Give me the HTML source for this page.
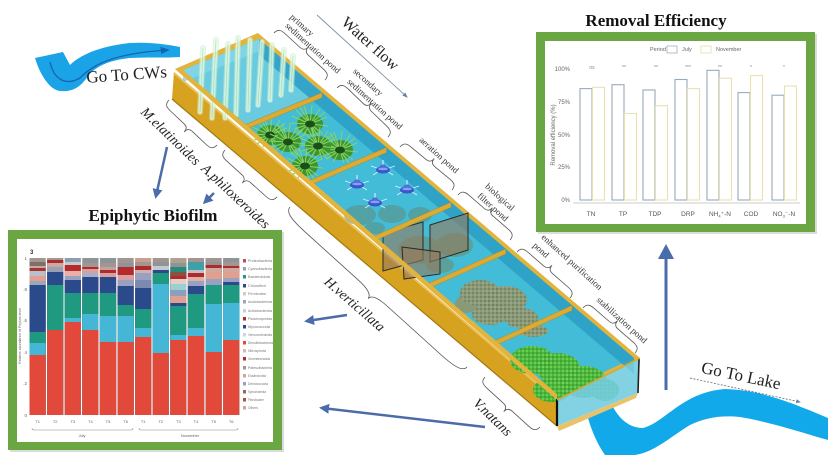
<!DOCTYPE html>
<html><head><meta charset="utf-8">
<style>
html,body{margin:0;padding:0;background:#fff;}
svg{display:block;}
.sf{font-family:"Liberation Serif","DejaVu Serif",serif;}
.ss{font-family:"Liberation Sans","DejaVu Sans",sans-serif;}
#bars rect{width:16.2px;}
</style></head>
<body>
<svg width="830" height="455" viewBox="0 0 830 455" xmlns="http://www.w3.org/2000/svg">
<defs>
  <marker id="ah" viewBox="0 0 10 10" refX="7" refY="5" markerWidth="4" markerHeight="4" orient="auto"><path d="M0,0 L10,5 L0,10 z" fill="#4b6cab"/></marker>
  <marker id="ag" viewBox="0 0 10 10" refX="8" refY="5" markerWidth="6" markerHeight="6" orient="auto"><path d="M0,1 L10,5 L0,9 z" fill="#6a7fa8"/></marker>
  <marker id="ad" viewBox="0 0 10 10" refX="8" refY="5" markerWidth="7" markerHeight="7" orient="auto"><path d="M0,1 L10,5 L0,9 z" fill="#1565b0"/></marker>
  <path id="br" d="M0,0 C0,-6 5,-7 12,-7 L42,-7 C47,-7 50,-9 50,-13 C50,-9 53,-7 58,-7 L88,-7 C95,-7 100,-6 100,0" fill="none" stroke="#555" stroke-width="0.8" vector-effect="non-scaling-stroke"/>
  <pattern id="pdots" width="4" height="4" patternUnits="userSpaceOnUse">
    <circle cx="1" cy="1" r="0.9" fill="#5d6e4c"/><circle cx="3" cy="3" r="0.8" fill="#b4bca0"/>
  </pattern>
  <pattern id="gdots" width="4" height="4" patternUnits="userSpaceOnUse">
    <circle cx="1" cy="1" r="0.9" fill="#2f8f28"/><circle cx="3" cy="3" r="0.9" fill="#92e06e"/>
  </pattern>
  <g id="tuft">
    <ellipse rx="13" ry="10" fill="#3d9532"/>
    <path d="M0,0 L-18,-8 M0,0 L-14,-14 M0,0 L-6,-18 M0,0 L2,-19 M0,0 L10,-15 M0,0 L17,-7 M0,0 L18,2 M0,0 L13,10 M0,0 L4,13 M0,0 L-7,12 M0,0 L-16,5 M0,0 L-19,-1 M0,0 L-10,-17 M0,0 L15,-12 M0,0 L-13,9 M0,0 L9,13" stroke="#86d463" stroke-width="1.1"/>
    <ellipse rx="5" ry="3.5" fill="#1c4f18"/>
  </g>
  <g id="aer">
    <line x1="0" y1="-4" x2="0" y2="-10" stroke="#e8f4ff" stroke-width="1"/>
    <path d="M-6,-2 L-12,-4 M6,-2 L12,-4 M-5,2 L-10,5 M5,2 L10,5" stroke="#e0f0ff" stroke-width="0.8"/>
    <ellipse cx="0" cy="0" rx="7" ry="3.5" fill="#3b57cc"/>
    <ellipse cx="0" cy="-3" rx="3.5" ry="2.5" fill="#4e6ee0"/>
    <ellipse cx="0" cy="-1" rx="5" ry="1.2" fill="#8aa0f0"/>
  </g>
</defs>

<!-- ===== Go To CWs river ===== -->
<path d="M35,58 L63,52 L70,65 C80,55 100,46 130,43 C150,42 165,44 180,47 L180,57 C165,58 150,57 130,58 C110,60 96,66 88,76 C80,88 72,92 60,91 C50,90 40,75 35,58 Z" fill="#1aa3e6"/>
<path d="M50,62 C54,80 66,86 80,78 C95,62 120,53 168,50" fill="none" stroke="#1565b0" stroke-width="1.3" marker-end="url(#ad)"/>
<text class="sf" x="0" y="0" font-size="17" fill="#222" text-anchor="middle" transform="translate(127,80) rotate(-4)">Go To CWs</text>

<!-- ===== Go To Lake river ===== -->
<path d="M588,418 L613,407 C620,420 630,428 643,428 C655,425 665,415 680,405 C695,395 710,390 725,389 C760,390 790,402 828,418 L828,440 C800,432 770,422 740,417 C720,415 705,418 690,425 C670,437 655,452 635,455 L605,455 C598,445 592,432 588,418 Z" fill="#12a9ea"/>
<line x1="690" y1="378" x2="800" y2="402" stroke="#667" stroke-width="0.8" stroke-dasharray="2,1.5" marker-end="url(#ag)"/>
<text class="sf" x="0" y="0" font-size="17" fill="#222" text-anchor="middle" transform="translate(740,381) rotate(12)">Go To Lake</text>

<!-- ===== Channel ===== -->
<polygon points="174,72 557,400 557,426 172,99" fill="#d6a21f"/>
<line x1="174" y1="73" x2="557" y2="401" stroke="#ecc058" stroke-width="2"/>
<line x1="172" y1="99" x2="557" y2="426" stroke="#a27610" stroke-width="1.2"/>
<polygon points="175,69 258,33 640,358 557,400" fill="#e3b43c"/>
<polygon points="183,70 259,39 634,358 557,394" fill="#43bcd8"/>
<polygon points="183,70 259,39 322,92 246,124" fill="#6acbe0"/>
<polygon points="259,39 634,358 634,374 259,55" fill="#2a9fc4" opacity="0.85"/>
<polygon points="183,70 259,39 259,51 183,82" fill="#86d6e8" opacity="0.8"/>

<!-- pond1 plumes -->
<g stroke-linecap="round" fill="none">
  <g stroke="rgba(195,236,200,0.55)" stroke-width="6">
    <path d="M200,112 L203,48"/><path d="M212,118 L216,40"/><path d="M225,118 L228,44"/>
    <path d="M236,115 L238,38"/><path d="M248,110 L250,40"/><path d="M258,105 L262,42"/>
    <path d="M270,100 L272,45"/><path d="M281,95 L284,50"/><path d="M291,90 L293,56"/>
  </g>
  <g stroke="rgba(240,255,240,0.6)" stroke-width="4" stroke-dasharray="1,2">
    <path d="M200,112 L203,48"/><path d="M212,118 L216,40"/><path d="M225,118 L228,44"/>
    <path d="M236,115 L238,38"/><path d="M248,110 L250,40"/><path d="M258,105 L262,42"/>
    <path d="M270,100 L272,45"/><path d="M281,95 L284,50"/><path d="M291,90 L293,56"/>
  </g>
  <g stroke="rgba(130,200,145,0.6)" stroke-width="0.6">
    <path d="M200,112 L203,48"/><path d="M212,118 L216,40"/><path d="M225,118 L228,44"/>
    <path d="M236,115 L238,38"/><path d="M248,110 L250,40"/><path d="M258,105 L262,42"/>
    <path d="M270,100 L272,45"/><path d="M281,95 L284,50"/><path d="M291,90 L293,56"/>
  </g>
</g>

<!-- pond2 tufts -->
<use href="#tuft" transform="translate(270,135)"/>
<use href="#tuft" transform="translate(310,124)"/>
<use href="#tuft" transform="translate(288,142)"/>
<use href="#tuft" transform="translate(340,150)"/>
<use href="#tuft" transform="translate(318,146)"/>
<use href="#tuft" transform="translate(305,166)"/>

<!-- pond3 murk + aerators -->
<g fill="#5f8c7a" opacity="0.55">
  <ellipse cx="360" cy="215" rx="16" ry="10"/><ellipse cx="392" cy="214" rx="14" ry="9"/>
  <ellipse cx="420" cy="215" rx="12" ry="8"/><ellipse cx="375" cy="228" rx="10" ry="6"/>
</g>
<use href="#aer" transform="translate(383,170)"/>
<use href="#aer" transform="translate(357,185)"/>
<use href="#aer" transform="translate(407,190)"/>
<use href="#aer" transform="translate(375,203)"/>

<!-- pond4 murk + panels -->
<g fill="#6f8a66" opacity="0.55">
  <ellipse cx="420" cy="250" rx="22" ry="14"/><ellipse cx="455" cy="245" rx="18" ry="12"/><ellipse cx="440" cy="265" rx="14" ry="8"/>
</g>
<polygon points="383,233 423,222 423,260 383,271" fill="rgba(150,122,92,0.6)" stroke="#2a2a2a" stroke-width="1"/>
<polygon points="430,225 468,213 468,250 430,262" fill="rgba(150,122,92,0.6)" stroke="#2a2a2a" stroke-width="1"/>
<polygon points="402,247 440,252 440,274 404,279" fill="rgba(150,122,92,0.6)" stroke="#2a2a2a" stroke-width="1"/>

<!-- pond5 H.verticillata -->
<g fill="#8a9a78">
  <ellipse cx="480" cy="293" rx="20" ry="13"/><ellipse cx="505" cy="300" rx="22" ry="14"/>
  <ellipse cx="490" cy="314" rx="18" ry="11"/><ellipse cx="521" cy="318" rx="17" ry="10"/>
  <ellipse cx="466" cy="304" rx="11" ry="9"/><ellipse cx="533" cy="331" rx="15" ry="6"/>
</g>
<g fill="url(#pdots)" opacity="0.75">
  <ellipse cx="480" cy="293" rx="20" ry="13"/><ellipse cx="505" cy="300" rx="22" ry="14"/>
  <ellipse cx="490" cy="314" rx="18" ry="11"/><ellipse cx="521" cy="318" rx="17" ry="10"/>
  <ellipse cx="533" cy="331" rx="15" ry="6"/>
</g>

<!-- pond6 V.natans -->
<g fill="#4db83e">
  <ellipse cx="532" cy="360" rx="22" ry="14"/><ellipse cx="558" cy="368" rx="22" ry="15"/>
  <ellipse cx="584" cy="382" rx="23" ry="16"/><ellipse cx="552" cy="390" rx="19" ry="12"/>
  <ellipse cx="605" cy="390" rx="14" ry="11"/>
</g>
<g fill="url(#gdots)" opacity="0.8">
  <ellipse cx="532" cy="360" rx="22" ry="14"/><ellipse cx="558" cy="368" rx="22" ry="15"/>
  <ellipse cx="584" cy="382" rx="23" ry="16"/><ellipse cx="552" cy="390" rx="19" ry="12"/>
  <ellipse cx="605" cy="390" rx="14" ry="11"/>
</g>

<!-- dividers -->
<g fill="#dcab34" stroke="#b88a1c" stroke-width="0.5">
  <polygon points="245.8,124.4 322,92.6 322,97.6 245.8,129.4"/>
  <polygon points="310.2,180.2 386.5,147.5 386.5,152.5 310.2,185.2"/>
  <polygon points="374.5,235.9 451,202.3 451,207.3 374.5,240.9"/>
  <polygon points="429.1,283.2 505.8,248.9 505.8,253.9 429.1,288.2"/>
  <polygon points="495.3,340.5 572.1,305.4 572.1,310.4 495.3,345.5"/>
</g>
<polygon points="175,69 557,400 557,394 183,70" fill="#e3b43c"/>

<!-- right end glass face -->
<polygon points="557,400 640,358 638,393 557,426" fill="#74cde0" opacity="0.9"/>
<polygon points="557,426 638,393 636,398 559,431" fill="#e8c36a"/>
<line x1="557" y1="399" x2="557" y2="426" stroke="#111" stroke-width="2.2"/>
<line x1="639" y1="359" x2="638" y2="393" stroke="#222" stroke-width="1.6"/>
<line x1="557" y1="400" x2="640" y2="358" stroke="#d8a830" stroke-width="1.5"/>

<!-- ===== braces ===== -->
<use href="#br" transform="translate(274,33) rotate(42.7) scale(.694,1)"/>
<use href="#br" transform="translate(337,88) rotate(43.9) scale(.707,1)"/>
<use href="#br" transform="translate(400,147) rotate(39.6) scale(.675,1)"/>
<use href="#br" transform="translate(458,195) rotate(40.9) scale(.688,1)"/>
<use href="#br" transform="translate(517,252) rotate(41) scale(.702,1)"/>
<use href="#br" transform="translate(583,308) rotate(40.9) scale(.688,1)"/>
<use href="#br" transform="translate(169,100) rotate(43.2) scale(.658,-1)"/>
<use href="#br" transform="translate(225,150) rotate(42.1) scale(.70,-1)"/>
<use href="#br" transform="translate(290,207) rotate(42.1) scale(2.386,-1.2)"/>
<use href="#br" transform="translate(485,377) rotate(42.3) scale(.743,-1)"/>

<!-- ===== labels ===== -->
<line x1="317" y1="15" x2="407" y2="97" stroke="#8090aa" stroke-width="0.9" marker-end="url(#ag)"/>
<text class="sf" font-size="16" fill="#222" text-anchor="middle" dominant-baseline="central" transform="translate(370,44) rotate(42)">Water flow</text>
<g class="sf" font-size="9" fill="#333" text-anchor="middle" dominant-baseline="central">
  <text transform="translate(302,25) rotate(42)">primary</text>
  <text transform="translate(313,48) rotate(42)">sedimentation pond</text>
  <text transform="translate(368,82) rotate(42)">secondary</text>
  <text transform="translate(375,104) rotate(42)">sedimentation pond</text>
  <text transform="translate(439,155) rotate(42)">aeration pond</text>
  <text transform="translate(500,197) rotate(42)">biological</text>
  <text transform="translate(493,207) rotate(42)">filter pond</text>
  <text transform="translate(572,262) rotate(42)">enhanced purification</text>
  <text transform="translate(541,250) rotate(42)">pond</text>
  <text transform="translate(622,320) rotate(42)">stabilization pond</text>
</g>
<g class="sf" font-size="14" font-style="italic" fill="#222" text-anchor="middle" dominant-baseline="central">
  <text transform="translate(170,137) rotate(44)">M.elatinoides</text>
  <text transform="translate(235,197) rotate(43)">A.philoxeroides</text>
  <text transform="translate(354,305) rotate(41)">H.verticillata</text>
  <text transform="translate(492,418) rotate(44)">V.natans</text>
</g>

<!-- ===== blue arrows ===== -->
<g stroke="#4b6cab" stroke-width="2.5" fill="none" marker-end="url(#ah)">
  <line x1="167" y1="147" x2="156" y2="196"/>
  <line x1="214" y1="193" x2="205" y2="202"/>
  <line x1="347" y1="315" x2="307" y2="321"/>
  <line x1="485" y1="427" x2="322" y2="408"/>
</g>
<line x1="666" y1="390" x2="666" y2="256" stroke="#4b6cab" stroke-width="3"/>
<polygon points="658,259 674,259 666,244" fill="#4b6cab"/>

<!-- ===== Removal Efficiency ===== -->
<text class="sf" x="656" y="26" font-size="17" font-weight="bold" fill="#111" text-anchor="middle">Removal Efficiency</text>
<rect x="538" y="34" width="279" height="200" fill="#999" opacity="0.35"/>
<rect x="536" y="32" width="279" height="200" fill="#6aa641"/>
<rect x="545" y="41" width="261" height="183" fill="#fff"/>
<g class="ss" fill="#666">
  <text x="650" y="51" font-size="5.5">Period</text>
  <rect x="667" y="46" width="10" height="7" fill="none" stroke="#9fb0c0" stroke-width="0.8"/>
  <text x="682" y="51" font-size="5.5">July</text>
  <rect x="701" y="46" width="10" height="7" fill="none" stroke="#e8dca8" stroke-width="0.8"/>
  <text x="716" y="51" font-size="5.5">November</text>
  <g font-size="6" text-anchor="end">
    <text x="570" y="71">100%</text><text x="570" y="104">75%</text><text x="570" y="137">50%</text>
    <text x="570" y="169">25%</text><text x="570" y="202">0%</text>
  </g>
  <text font-size="6" text-anchor="middle" transform="translate(555,135) rotate(-90)">Removal efficiency (%)</text>
  <g font-size="5" fill="#888" text-anchor="middle">
    <text x="592" y="69">ns</text><text x="624" y="69">**</text><text x="656" y="69">**</text>
    <text x="688" y="69">***</text><text x="720" y="69">**</text><text x="751" y="69">*</text><text x="784" y="69">*</text>
  </g>
  <g font-size="6.5" fill="#555" text-anchor="middle">
    <text x="591" y="216">TN</text><text x="623" y="216">TP</text><text x="655" y="216">TDP</text>
    <text x="688" y="216">DRP</text><text x="720" y="216">NH<tspan font-size="4" dy="1.5">4</tspan><tspan dy="-1.5">⁺-N</tspan></text>
    <text x="751" y="216">COD</text><text x="784" y="216">NO<tspan font-size="4" dy="1.5">3</tspan><tspan dy="-1.5">⁻-N</tspan></text>
  </g>
</g>
<line x1="573" y1="203" x2="800" y2="203" stroke="#999" stroke-width="0.6"/>
<g fill="#fff" stroke="#98aabd" stroke-width="1.1">
  <rect x="580" y="88.6" width="12" height="111.4"/>
  <rect x="612" y="84.7" width="12" height="115.3"/>
  <rect x="643" y="90" width="12" height="110"/>
  <rect x="675" y="79.5" width="12" height="120.5"/>
  <rect x="707" y="70.3" width="12" height="129.7"/>
  <rect x="738" y="92.6" width="12" height="107.4"/>
  <rect x="772" y="95.2" width="12" height="104.8"/>
</g>
<g fill="#fff" stroke="#ebe0b0" stroke-width="1.1">
  <rect x="592.5" y="87.3" width="12" height="112.7"/>
  <rect x="624.5" y="113.5" width="12" height="86.5"/>
  <rect x="655.5" y="105.7" width="12" height="94.3"/>
  <rect x="687.5" y="88.6" width="12" height="111.4"/>
  <rect x="719.5" y="78.2" width="12" height="121.8"/>
  <rect x="750.5" y="75.5" width="12" height="124.5"/>
  <rect x="784.5" y="86" width="12" height="114"/>
</g>

<!-- ===== Epiphytic Biofilm ===== -->
<text class="sf" x="153" y="221" font-size="17" font-weight="bold" fill="#111" text-anchor="middle">Epiphytic Biofilm</text>
<rect x="10" y="232" width="274" height="220" fill="#999" opacity="0.35"/>
<rect x="8" y="230" width="274" height="220" fill="#6aa641"/>
<rect x="17" y="239" width="256" height="203" fill="#fff"/>
<text class="ss" x="30" y="254" font-size="6" font-weight="bold" fill="#333">3</text>
<g class="ss" font-size="4.5" fill="#666" text-anchor="end">
  <text x="27" y="260">1</text><text x="27" y="291">.8</text><text x="27" y="322">.6</text>
  <text x="27" y="354">.4</text><text x="27" y="385">.2</text><text x="27" y="417">0</text>
</g>
<text class="ss" font-size="3.5" fill="#666" text-anchor="middle" transform="translate(21,336) rotate(-90)">Relative abundance of Phylum level</text>

<g id="bars">
<g transform="translate(29.5,0)">
<rect y="258" height="157" fill="#a39690"/><rect y="262" height="153" fill="#7f6f6a"/><rect y="266" height="149" fill="#c8a8a0"/><rect y="268" height="147" fill="#a8332f"/><rect y="271" height="144" fill="#b8c0cc"/><rect y="276" height="139" fill="#e2a093"/><rect y="281" height="134" fill="#9aa8bc"/><rect y="285" height="130" fill="#2b4a8b"/><rect y="332" height="83" fill="#1f9a80"/><rect y="343" height="72" fill="#45b6d6"/><rect y="355" height="60" fill="#e3493a"/>
</g>
<g transform="translate(47.1,0)">
<rect y="258" height="157" fill="#a39690"/><rect y="260" height="155" fill="#b02a2a"/><rect y="263" height="152" fill="#c9a9a5"/><rect y="267" height="148" fill="#9aa0ad"/><rect y="272" height="143" fill="#2b4a8b"/><rect y="285" height="130" fill="#1f9a80"/><rect y="330" height="85" fill="#e3493a"/>
</g>
<g transform="translate(64.7,0)">
<rect y="258" height="157" fill="#8aa0b0"/><rect y="262" height="153" fill="#c8c8d0"/><rect y="265" height="150" fill="#b52a2a"/><rect y="271" height="144" fill="#e8b0a8"/><rect y="276" height="139" fill="#9aa0c0"/><rect y="280" height="135" fill="#2b4a8b"/><rect y="293" height="122" fill="#1f9a80"/><rect y="318" height="97" fill="#45b6d6"/><rect y="322" height="93" fill="#e3493a"/>
</g>
<g transform="translate(82.3,0)">
<rect y="258" height="157" fill="#8f9499"/><rect y="263" height="152" fill="#a39690"/><rect y="267" height="148" fill="#b02a2a"/><rect y="269" height="146" fill="#d8a0a0"/><rect y="273" height="142" fill="#a8b0c8"/><rect y="277" height="138" fill="#2b4a8b"/><rect y="293" height="122" fill="#1f9a80"/><rect y="314" height="101" fill="#45b6d6"/><rect y="330" height="85" fill="#e3493a"/>
</g>
<g transform="translate(99.9,0)">
<rect y="258" height="157" fill="#8f9499"/><rect y="263" height="152" fill="#a39690"/><rect y="267" height="148" fill="#c0a0a0"/><rect y="270" height="145" fill="#b02a2a"/><rect y="273" height="142" fill="#d8a0a0"/><rect y="277" height="138" fill="#2b4a8b"/><rect y="293" height="122" fill="#1f9a80"/><rect y="316" height="99" fill="#45b6d6"/><rect y="342" height="73" fill="#e3493a"/>
</g>
<g transform="translate(117.5,0)">
<rect y="258" height="157" fill="#a39690"/><rect y="263" height="152" fill="#8f9499"/><rect y="267" height="148" fill="#b52a2a"/><rect y="275" height="140" fill="#d8a0a0"/><rect y="280" height="135" fill="#9aa0c0"/><rect y="286" height="129" fill="#2b4a8b"/><rect y="305" height="110" fill="#1f9a80"/><rect y="316" height="99" fill="#45b6d6"/><rect y="342" height="73" fill="#e3493a"/>
</g>
<g transform="translate(135.1,0)">
<rect y="258" height="157" fill="#c8a090"/><rect y="262" height="153" fill="#a39690"/><rect y="266" height="149" fill="#b02a2a"/><rect y="270" height="145" fill="#d0b0b0"/><rect y="273" height="142" fill="#9aa0c0"/><rect y="280" height="135" fill="#7a8ab0"/><rect y="288" height="127" fill="#2b4a8b"/><rect y="309" height="106" fill="#1f9a80"/><rect y="328" height="87" fill="#45b6d6"/><rect y="337" height="78" fill="#e3493a"/>
</g>
<g transform="translate(152.7,0)">
<rect y="258" height="157" fill="#a39690"/><rect y="262" height="153" fill="#8f9499"/><rect y="266" height="149" fill="#c8c8d0"/><rect y="270" height="145" fill="#2b4a8b"/><rect y="273" height="142" fill="#1f9a80"/><rect y="284" height="131" fill="#45b6d6"/><rect y="353" height="62" fill="#e3493a"/>
</g>
<g transform="translate(170.3,0)">
<rect y="258" height="157" fill="#b0a090"/><rect y="263" height="152" fill="#8f9499"/><rect y="267" height="148" fill="#2a8a7a"/><rect y="272" height="143" fill="#8a5040"/><rect y="276" height="139" fill="#b52a2a"/><rect y="279" height="136" fill="#e0d0c8"/><rect y="284" height="131" fill="#9cd0d0"/><rect y="290" height="125" fill="#8aa0c0"/><rect y="296" height="119" fill="#e0a090"/><rect y="303" height="112" fill="#2b4a8b"/><rect y="306" height="109" fill="#1f9a80"/><rect y="335" height="80" fill="#45b6d6"/><rect y="340" height="75" fill="#e3493a"/>
</g>
<g transform="translate(187.9,0)">
<rect y="258" height="157" fill="#a39690"/><rect y="262" height="153" fill="#40a0a8"/><rect y="270" height="145" fill="#c0c0c8"/><rect y="273" height="142" fill="#b02a2a"/><rect y="277" height="138" fill="#e0b0a8"/><rect y="281" height="134" fill="#9aa0c0"/><rect y="286" height="129" fill="#2b4a8b"/><rect y="294" height="121" fill="#1f9a80"/><rect y="328" height="87" fill="#45b6d6"/><rect y="336" height="79" fill="#e3493a"/>
</g>
<g transform="translate(205.5,0)">
<rect y="258" height="157" fill="#a39690"/><rect y="262" height="153" fill="#8f9499"/><rect y="265" height="150" fill="#b02a2a"/><rect y="268" height="147" fill="#d0a8a0"/><rect y="272" height="143" fill="#e0a090"/><rect y="279" height="136" fill="#9aa0c0"/><rect y="285" height="130" fill="#1f9a80"/><rect y="304" height="111" fill="#45b6d6"/><rect y="352" height="63" fill="#e3493a"/>
</g>
<g transform="translate(223.1,0)">
<rect y="258" height="157" fill="#8f9499"/><rect y="262" height="153" fill="#a39690"/><rect y="266" height="149" fill="#b02a2a"/><rect y="268" height="147" fill="#d0a8a0"/><rect y="272" height="143" fill="#e0a090"/><rect y="278" height="137" fill="#9aa0c0"/><rect y="282" height="133" fill="#2b4a8b"/><rect y="285" height="130" fill="#1f9a80"/><rect y="303" height="112" fill="#45b6d6"/><rect y="340" height="75" fill="#e3493a"/>
</g>
</g>

<g class="ss" font-size="4" fill="#666" text-anchor="middle">
  <text x="37.6" y="423">T1</text><text x="55.2" y="423">T2</text><text x="72.8" y="423">T3</text>
  <text x="90.4" y="423">T4</text><text x="108" y="423">T5</text><text x="125.6" y="423">T6</text>
  <text x="143.2" y="423">T1</text><text x="160.8" y="423">T2</text><text x="178.4" y="423">T3</text>
  <text x="196" y="423">T4</text><text x="213.6" y="423">T5</text><text x="231.2" y="423">T6</text>
  <text x="82" y="437">July</text><text x="190" y="437">November</text>
</g>
<path d="M32,428 Q32,430 34,430 L131,430 Q133,430 133,428 M139,428 Q139,430 141,430 L236,430 Q238,430 238,428" fill="none" stroke="#888" stroke-width="0.6"/>

<g class="ss" font-size="3.6" fill="#777">
  <rect x="243" y="259" width="3" height="3.5" fill="#c0504d"/><text x="248" y="262" textLength="24" lengthAdjust="spacingAndGlyphs">Proteobacteria</text>
  <rect x="243" y="267" width="3" height="3.5" fill="#9aa0ad"/><text x="248" y="270" textLength="24" lengthAdjust="spacingAndGlyphs">Cyanobacteria</text>
  <rect x="243" y="275" width="3" height="3.5" fill="#1f9a80"/><text x="248" y="278" textLength="22" lengthAdjust="spacingAndGlyphs">Bacteroidota</text>
  <rect x="243" y="284" width="3" height="3.5" fill="#2b4a8b"/><text x="248" y="287" textLength="18" lengthAdjust="spacingAndGlyphs">Chloroflexi</text>
  <rect x="243" y="292" width="3" height="3.5" fill="#d8c8c0"/><text x="248" y="295" textLength="18" lengthAdjust="spacingAndGlyphs">Firmicutes</text>
  <rect x="243" y="300" width="3" height="3.5" fill="#9aa8bc"/><text x="248" y="303" textLength="24" lengthAdjust="spacingAndGlyphs">Acidobacteriota</text>
  <rect x="243" y="309" width="3" height="3.5" fill="#c8d0d8"/><text x="248" y="312" textLength="24" lengthAdjust="spacingAndGlyphs">Actinobacteriota</text>
  <rect x="243" y="317" width="3" height="3.5" fill="#b02a2a"/><text x="248" y="320" textLength="24" lengthAdjust="spacingAndGlyphs">Planctomycetota</text>
  <rect x="243" y="325" width="3" height="3.5" fill="#2b4a8b"/><text x="248" y="328" textLength="22" lengthAdjust="spacingAndGlyphs">Myxococcota</text>
  <rect x="243" y="333" width="3" height="3.5" fill="#c8d8e0"/><text x="248" y="336" textLength="24" lengthAdjust="spacingAndGlyphs">Verrucomicrobiota</text>
  <rect x="243" y="341" width="3" height="3.5" fill="#e3493a"/><text x="248" y="344" textLength="25" lengthAdjust="spacingAndGlyphs">Desulfobacterota</text>
  <rect x="243" y="349" width="3" height="3.5" fill="#d8b8b0"/><text x="248" y="352" textLength="18" lengthAdjust="spacingAndGlyphs">Nitrospirota</text>
  <rect x="243" y="357" width="3" height="3.5" fill="#b52a2a"/><text x="248" y="360" textLength="22" lengthAdjust="spacingAndGlyphs">Gemmatimonadota</text>
  <rect x="243" y="366" width="3" height="3.5" fill="#a39690"/><text x="248" y="369" textLength="24" lengthAdjust="spacingAndGlyphs">Patescibacteria</text>
  <rect x="243" y="374" width="3" height="3.5" fill="#e0a090"/><text x="248" y="377" textLength="18" lengthAdjust="spacingAndGlyphs">Elusimicrobia</text>
  <rect x="243" y="382" width="3" height="3.5" fill="#9aa0c0"/><text x="248" y="385" textLength="20" lengthAdjust="spacingAndGlyphs">Deinococcota</text>
  <rect x="243" y="390" width="3" height="3.5" fill="#8a7060"/><text x="248" y="393" textLength="18" lengthAdjust="spacingAndGlyphs">Spirochaetota</text>
  <rect x="243" y="398" width="3" height="3.5" fill="#b05040"/><text x="248" y="401" textLength="16" lengthAdjust="spacingAndGlyphs">Fibrobacter</text>
  <rect x="243" y="406" width="3" height="3.5" fill="#c8a8a0"/><text x="248" y="409" textLength="10" lengthAdjust="spacingAndGlyphs">Others</text>
</g>
</svg>
</body></html>
